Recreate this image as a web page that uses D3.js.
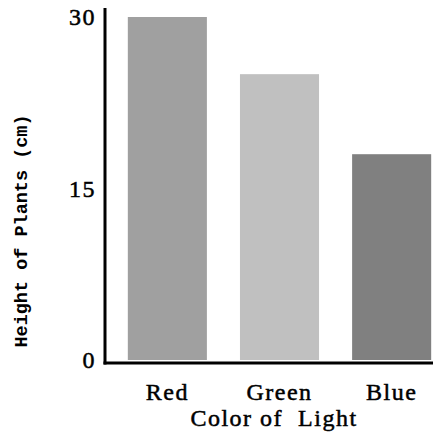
<!DOCTYPE html>
<html>
<head>
<meta charset="utf-8">
<script src="https://cdn.jsdelivr.net/npm/d3@7"></script>
<style>
  body { margin: 0; background: #fff; }
</style>
</head>
<body>
<svg id="barChart" width="433" height="433"></svg>
<script>
const categories = ["Red", "Green", "Blue"];
const heights = [30, 25, 18];
const barColors = ["#a0a0a0", "#c0c0c0", "#808080"];
const yTicks = [0, 15, 30];

const svg = d3.select("#barChart");
const serif = "'Liberation Serif', 'DejaVu Serif', serif";

const x = d3.scaleBand()
  .domain(categories)
  .range([111, 448])
  .paddingInner(0.295)
  .paddingOuter(0.15);

const y = d3.scaleLinear()
  .domain([0, 30])
  .range([360, 17]);

// bars
svg.selectAll("rect.bar")
  .data(categories)
  .enter()
  .append("rect")
  .attr("class", "bar")
  .attr("x", d => x(d))
  .attr("y", (d, i) => y(heights[i]))
  .attr("width", x.bandwidth())
  .attr("height", (d, i) => y(0) - y(heights[i]))
  .attr("fill", (d, i) => barColors[i]);

// axis lines
svg.append("line")
  .attr("x1", 105).attr("x2", 105)
  .attr("y1", 8).attr("y2", 364.5)
  .attr("stroke", "#000").attr("stroke-width", 3);

svg.append("line")
  .attr("x1", 103.5).attr("x2", 433)
  .attr("y1", 363).attr("y2", 363)
  .attr("stroke", "#000").attr("stroke-width", 3);

// y tick labels
const yAxis = svg.append("g")
  .attr("transform", "translate(105,0)")
  .call(d3.axisLeft(y).tickValues(yTicks).tickSize(0).tickPadding(9));
yAxis.select(".domain").remove();
yAxis.selectAll("text")
  .style("font-family", serif)
  .style("font-size", "24px")
  .style("letter-spacing", "1.5px")
  .attr("fill", "#000")
  .attr("stroke", "#000")
  .attr("stroke-width", 0.5);

// x tick labels
const xAxis = svg.append("g")
  .attr("transform", "translate(0,363)")
  .call(d3.axisBottom(x).tickSize(0).tickPadding(20));
xAxis.select(".domain").remove();
xAxis.selectAll("text")
  .style("font-family", serif)
  .style("font-size", "24px")
  .style("letter-spacing", "1.5px")
  .attr("fill", "#000")
  .attr("stroke", "#000")
  .attr("stroke-width", 0.5);

// axis titles
svg.append("text")
  .attr("x", 274)
  .attr("y", 426)
  .attr("text-anchor", "middle")
  .style("font-family", serif)
  .style("font-size", "24px")
  .style("letter-spacing", "1.5px")
  .style("white-space", "pre")
  .attr("stroke", "#000")
  .attr("stroke-width", 0.5)
  .text("Color of  Light");

svg.append("text")
  .attr("transform", "translate(27,231) rotate(-90)")
  .attr("text-anchor", "middle")
  .style("font-family", "'Liberation Mono', 'DejaVu Sans Mono', monospace")
  .style("font-weight", "bold")
  .style("font-size", "18.5px")
  .style("white-space", "pre")
  .text("Height of Plants (cm)");
</script>
</body>
</html>
